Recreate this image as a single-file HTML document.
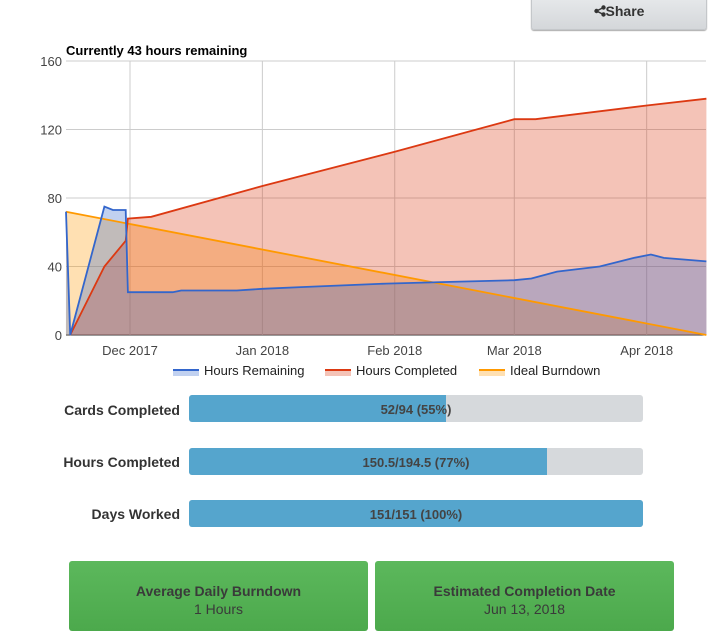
<!DOCTYPE html>
<html><head><meta charset="utf-8"><style>
body{margin:0;width:726px;height:620px;overflow:hidden;background:#fff;font-family:"Liberation Sans",sans-serif;position:relative}
.abs{position:absolute}
.share{left:531px;top:-6px;width:174px;height:32px;background:linear-gradient(#e8eaec,#d4d7da);border:1px solid #c4c7ca;border-radius:3px;box-shadow:0 1px 1px #aaa;color:#333;font-weight:bold;font-size:14px;text-align:center;line-height:28px;padding-top:2px}
.lbl{right:546px;font-size:14px;font-weight:bold;color:#333;text-align:right}
.bar{left:189px;width:454px;height:27px;background:#d6d9dc;border-radius:3px;overflow:hidden}
.fill{position:absolute;left:0;top:0;bottom:0;background:#55a5cd}
.bt{position:absolute;left:0;right:0;top:1px;line-height:27px;text-align:center;font-size:13px;font-weight:bold;color:#444}
.green{top:561px;height:70px;background:linear-gradient(#5cb85c,#4ca94c);border-radius:3px;text-align:center;color:#3a3a3a;font-size:14px}
</style></head><body>
<div class="abs share"><svg width="12" height="12" viewBox="0 0 12 12" style="vertical-align:-1px"><circle cx="9.5" cy="2.5" r="2.2" fill="#333"/><circle cx="9.5" cy="9.5" r="2.2" fill="#333"/><circle cx="2.5" cy="6" r="2.2" fill="#333"/><path d="M2.5 6L9.5 2.5M2.5 6L9.5 9.5" stroke="#333" stroke-width="1.4"/></svg>Share</div>
<svg class="abs" style="left:0;top:0" width="726" height="390">
<g id="grid"></g><g id="areas"></g><g id="lines"></g><g id="axes"></g>
<text x="66" y="55" font-size="13" font-weight="bold" font-family="Liberation Sans">Currently 43 hours remaining</text>
<g id="legend" font-size="13" font-family="Liberation Sans" fill="#222"></g>
</svg>
<div class="abs lbl" style="top:402px">Cards Completed</div>
<div class="abs bar" style="top:395px"><div class="fill" style="width:56.5%"></div><div class="bt">52/94 (55%)</div></div>
<div class="abs lbl" style="top:454px">Hours Completed</div>
<div class="abs bar" style="top:448px"><div class="fill" style="width:78.8%"></div><div class="bt">150.5/194.5 (77%)</div></div>
<div class="abs lbl" style="top:506px">Days Worked</div>
<div class="abs bar" style="top:500px"><div class="fill" style="width:100%"></div><div class="bt">151/151 (100%)</div></div>
<div class="abs green" style="left:69px;width:299px"><div style="margin-top:22px;font-weight:bold">Average Daily Burndown</div><div style="margin-top:2px">1 Hours</div></div>
<div class="abs green" style="left:375px;width:299px"><div style="margin-top:22px;font-weight:bold">Estimated Completion Date</div><div style="margin-top:2px">Jun 13, 2018</div></div>
<script>
const yTicks=[0,40,80,120,160];
const monthDays=[0,31,62,90,121];
const monthLabels=["Dec 2017","Jan 2018","Feb 2018","Mar 2018","Apr 2018"];
const remDays=[-15,-14,-6,-4,-1,-0.5,10,12,25,31,40,60,75,90,94,100,110,118,122,125,130,135];
const remVals=[72,0,75,73,73,25,25,26,26,27,28,30,31,32,33,37,40,45,47,45,44,43];
const compDays=[-14,-6,-1,-0.5,5,31,62,90,95,121,135];
const compVals=[0,40,55,68,69,87,107,126,126,134,138];
const idealDays=[-15,135];
const idealVals=[72,0];
const NS="http://www.w3.org/2000/svg";
const X=d=>130+d*4.27, Y=v=>335-v*274/160;
function mk(p,t,a){const e=document.createElementNS(NS,t);for(const k in a)e.setAttribute(k,a[k]);document.getElementById(p).appendChild(e);return e;}
yTicks.forEach(v=>{
 const l=mk('grid','line',{x1:66,x2:706,y1:Y(v),y2:Y(v),stroke:v?'#ccc':'#333','stroke-width':1});
 
 
 const t=mk('axes','text',{x:62,y:Y(v)+5,'text-anchor':'end','font-size':13,fill:'#444','font-family':'Liberation Sans'});t.textContent=v;
 
 
});
monthDays.forEach((d,i)=>{
 const l=mk('grid','line',{x1:X(d),x2:X(d),y1:61,y2:335,stroke:'#ccc'});
 
 
 const t=mk('axes','text',{x:X(d),y:355,'text-anchor':'middle','font-size':13,fill:'#444','font-family':'Liberation Sans'});t.textContent=monthLabels[i];
 
 
});
function series(days,vals,col,name){
 const pts=days.map((d,i)=>X(d).toFixed(1)+','+Y(vals[i]).toFixed(1));
 const a=mk('areas','polygon',{points:X(days[0])+','+Y(0)+' '+pts.join(' ')+' '+X(days[days.length-1])+','+Y(0),fill:col,'fill-opacity':0.3});
 
 
 const l=mk('lines','polyline',{points:pts.join(' '),fill:'none',stroke:col,'stroke-width':1.8});
 
 
}
series(idealDays,idealVals,'#ff9900','ideal-burndown');
series(compDays,compVals,'#dc3912','hours-completed');
series(remDays,remVals,'#3366cc','hours-remaining');
const legNames=["Hours Remaining","Hours Completed","Ideal Burndown"];
const legCols=["#3366cc","#dc3912","#ff9900"];
const legX=[173,325,479];
legNames.forEach((n,i)=>{
 mk('legend','rect',{x:legX[i],y:370,width:26,height:6,fill:legCols[i],'fill-opacity':0.3});
 mk('legend','line',{x1:legX[i],x2:legX[i]+26,y1:370,y2:370,stroke:legCols[i],'stroke-width':2});
 const t=mk('legend','text',{x:legX[i]+31,y:375});t.textContent=n;
 
 
});
</script>
</body></html>
